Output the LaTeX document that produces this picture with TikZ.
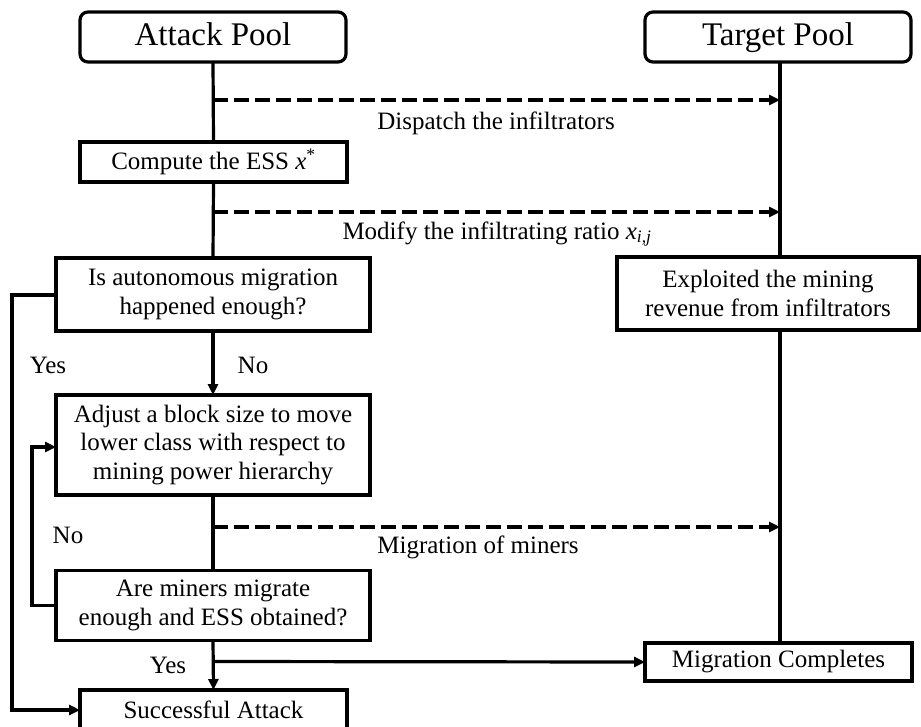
\documentclass[tikz,border=0pt]{standalone}
\usepackage{fontspec}
\setmainfont{Liberation Serif}
\usetikzlibrary{arrows.meta}
\begin{document}
\begin{tikzpicture}[x=1pt,y=-1pt,
  every node/.style={inner sep=0pt, outer sep=0pt},
  box/.style={draw, line width=3.2pt, align=center, font=\fontsize{25}{28.5}\selectfont},
  pool/.style={draw, line width=3.2pt, rounded corners=8pt, minimum width=266pt, minimum height=50pt, text height=22pt, text depth=6pt, font=\fontsize{33}{36}\selectfont},
  life/.style={line width=3.2pt},
  tip/.style={-{Triangle[length=11pt,width=10pt]}},
  flow/.style={line width=3.2pt, tip},
  dashflow/.style={line width=3.2pt, dash pattern=on 15pt off 6pt, tip},
  lbl/.style={font=\fontsize{25}{28}\selectfont}]
\useasboundingbox (0,0) rectangle (921,726);
\clip (0,0) rectangle (921,726);
% pools
\node[pool] (ap) at (213,37) {Attack Pool};
\node[pool] (tp) at (778,37) {Target Pool};
% attack side boxes
\node[box, minimum width=267pt, minimum height=40pt] (comp) at (213.5,162) {Compute the ESS \textit{x}\textsuperscript{*}};
\node[box, minimum width=314pt, minimum height=73pt] (isq) at (213,294.5) {Is autonomous migration\\happened enough?};
\node[box, minimum width=314pt, minimum height=100pt] (adj) at (213,445) {Adjust a block size to move\\lower class with respect to\\mining power hierarchy};
\node[box, minimum width=314pt, minimum height=70pt] (areq) at (213,605.5) {Are miners migrate\\enough and ESS obtained?};
\node[box, minimum width=267pt, minimum height=40pt, anchor=north] (succ) at (213.5,690) {};
\node[lbl] (succt) at (213.5,710) {Successful Attack};
% target side boxes
\node[box, minimum width=302pt, minimum height=73pt] (expl) at (768,293.5) {Exploited the mining\\revenue from infiltrators};
\node[box, minimum width=267pt, minimum height=38pt] (mc) at (778.5,662) {Migration Completes};
% lifelines
\coordinate (al1) at (213,100);
\coordinate (al2) at (213,212);
\coordinate (al3) at (213,527);
\coordinate (al4) at (213,661.5);
\coordinate (tl1) at (780,100);
\coordinate (tl2) at (780,212);
\coordinate (tl3) at (780,527);
\draw[life] (ap.south) -- (comp.north);
\draw[life] (comp.south) -- (isq.north);
\draw[flow] (isq.south) -- (adj.north);
\draw[life] (adj.south) -- (areq.north);
\draw[flow] (areq.south) -- (succ.north);
\draw[life] (tp.south -| tl1) -- (expl.north -| tl1);
\draw[life] (expl.south -| tl1) -- (mc.north -| tl1);
% dashed messages
\draw[dashflow] (al1) -- (tl1);
\draw[dashflow] (al2) -- (tl2);
\draw[dashflow] (al3) -- (tl3);
\node[lbl] (m1) at (496,123) {Dispatch the infiltrators};
\node[lbl] (m2) at (497,234) {Modify the infiltrating ratio \textit{x}\textsubscript{\textit{i,j}}};
\node[lbl] (m3) at (478,547) {Migration of miners};
% completion
\draw[flow] (al4) -- (mc.west);
% loops
\coordinate (yl) at (12,295);
\coordinate (nl) at (32,605.5);
\draw[flow] (isq.west |- yl) -- (yl) -- (yl |- succt) -- (succ.west |- succt);
\draw[flow] (areq.west) -- (nl) -- (32,447) -- (adj.west |- 0,447);
% branch labels
\node[lbl] (y1) at (48,365) {Yes};
\node[lbl] (n1) at (253,365) {No};
\node[lbl] (n2) at (68,535) {No};
\node[lbl] (y2) at (168,665) {Yes};
\end{tikzpicture}
\end{document}
